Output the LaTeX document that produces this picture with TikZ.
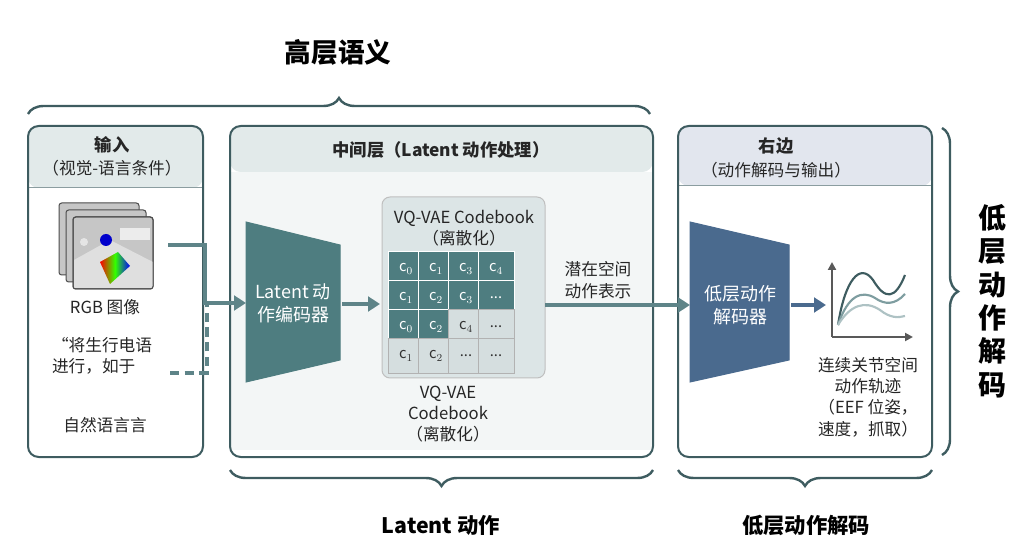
\documentclass[tikz,border=0pt]{standalone}
\usepackage{fontspec}
\setmainfont{Noto Sans CJK SC}
\usetikzlibrary{decorations.pathreplacing,arrows.meta}
\definecolor{frame}{HTML}{3E5C60}
\definecolor{teal}{HTML}{4E7D80}
\definecolor{navy}{HTML}{4A6A8E}
\definecolor{band}{HTML}{E2EAEA}
\definecolor{bandr}{HTML}{E2E6EE}
\definecolor{inner}{HTML}{F3F6F6}
\definecolor{cbk}{HTML}{DCE5E6}
\definecolor{cell}{HTML}{D5DEDF}
\definecolor{flow}{HTML}{5E8488}
\tikzset{every picture/.style={line width=0.75pt}}
\tikzset{
  panel/.style={draw=frame, line width=1.5pt, rounded corners=8pt},
  brc/.style={draw=frame, line width=1.8pt, decorate, decoration={brace, amplitude=12pt}},
  flw/.style={draw=flow, line width=2.5pt, -{Triangle[length=9pt,width=11pt]}},
  dcell/.style={draw=white, fill=teal, text=white, minimum width=27pt, minimum height=26pt, inner sep=0pt, font=\fontsize{11}{13}\selectfont},
  lcell/.style={draw=gray!60, fill=cell, text=black!80, minimum width=27pt, minimum height=26pt, inner sep=0pt, font=\fontsize{11}{13}\selectfont},
  txt/.style={font=\fontsize{12.5}{16}\selectfont, align=center, text=black!85},
  hd/.style={font=\fontsize{13}{16}\selectfont\bfseries, text=black!85}
}

\begin{document}
\begin{tikzpicture}[x=0.75pt,y=0.75pt,yscale=-1,xscale=1]
	\useasboundingbox (0,0) rectangle (1024,559);

	% top brace
	\draw [brc] (28,114) -- (650,114);
	\node (hi) at (338,52) {\fontsize{20}{24}\selectfont\bfseries 高层语义};

	%Left panel
	\fill [band, rounded corners=8pt] (28,126) rectangle (203,188);
	\fill [white] (28,188) rectangle (203,450);
	\draw [frame!60] (28,188) -- (203,188);
	\draw [panel] (28,126) rectangle (203,457);
	\node [hd] (inT) at (112,145) {输入};
	\node [txt] (inS) at (112,168) {（视觉-语言条件）};
	% image stack
	\foreach \d in {0,7,14} {
		\draw [black!70, fill=gray!45, rounded corners=2pt] (59+\d,203+\d) rectangle (139+\d,275+\d);
	}
	\fill [gray!25] (74,260) -- (110,240) -- (153,262) -- (153,288) -- (74,288) -- cycle;
	\fill [white!85!gray] (120,228) rectangle (150,240);
	\fill [blue!80!black] (106,240) circle (6);
	\shade [left color=red, right color=blue, middle color=green!80!yellow] (100,262) -- (118,252) -- (130,266) -- (110,284) -- cycle;
	\fill [white!80!gray] (84,242) circle (4);
	\draw [black!70, rounded corners=2pt] (73,217) rectangle (153,289);
	\coordinate (img) at (168,245);
	\node [txt] (rgb) at (105,307) {RGB 图像};
	\node [txt, align=left] (lang) at (102,356) {“将生行电语\\进行，如于};
	\coordinate (langR) at (170,373);
	\node [txt] (nat) at (105,425) {自然语言言};

	%Middle panel
	\fill [band, rounded corners=8pt] (230,126) rectangle (653,172);
	\fill [inner] (230,172) rectangle (653,450);
	\draw [panel] (230,126) rectangle (653,457);
	\node [hd] (midT) at (441,150) {中间层（Latent 动作处理）};
	%Shape: Trapezoid
	\draw [fill=teal, draw=teal] (246,222) -- (340,245) -- (340,360) -- (246,382) -- cycle;
	\node [txt, text=white, font=\fontsize{13.5}{17}\selectfont] (enc) at (293,303) {Latent 动\\作编码器};
	\coordinate (encL) at (246,303);
	\coordinate (encR) at (342,304);
	% codebook
	\draw [gray!50, fill=cbk, rounded corners=6pt] (382,197) rectangle (545,378);
	\node [txt] (cbT) at (464,228) {VQ-VAE Codebook\\（离散化）};
	\coordinate (cbL) at (380,304);
	\coordinate (cbR) at (545,305);
	\node [dcell] (c11) at (406,269) {c$_0$};
	\node [dcell] (c12) at (436,269) {c$_1$};
	\node [dcell] (c13) at (466,269) {c$_3$};
	\node [dcell] (c14) at (496,269) {c$_4$};
	\node [dcell] (c21) at (406,298) {c$_1$};
	\node [dcell] (c22) at (436,298) {c$_2$};
	\node [dcell] (c23) at (466,298) {c$_3$};
	\node [dcell] (c24) at (496,298) {...};
	\node [dcell] (c31) at (406,327) {c$_0$};
	\node [dcell] (c32) at (436,327) {c$_2$};
	\node [lcell] (c33) at (466,327) {c$_4$};
	\node [lcell] (c34) at (496,327) {...};
	\node [lcell] (c41) at (406,356) {c$_1$};
	\node [lcell] (c42) at (436,356) {c$_2$};
	\node [lcell] (c43) at (466,356) {...};
	\node [lcell] (c44) at (496,356) {...};
	\node [txt] (cbB) at (448,414) {VQ-VAE\\Codebook\\（离散化）};
	\node [txt] (lat) at (598,280) {潜在空间\\动作表示};

	%Right panel
	\fill [bandr, rounded corners=8pt] (678,126) rectangle (932,186);
	\fill [white] (678,186) rectangle (932,450);
	\draw [frame!60] (678,186) -- (932,186);
	\draw [panel] (678,126) rectangle (932,457);
	\node [hd] (rT) at (776,146) {右边};
	\node [txt] (rS) at (776,170) {（动作解码与输出）};
	\draw [fill=navy, draw=navy] (690,222) -- (789,245) -- (789,360) -- (690,382) -- cycle;
	\node [txt, text=white, font=\fontsize{13.5}{17}\selectfont] (dec) at (740,305) {低层动作\\解码器};
	\coordinate (decL) at (690,305);
	\coordinate (decR) at (791,305);
	% plot
	\coordinate (org) at (832,337);
	\draw [gray!70!black, line width=1.5pt, -{Triangle[length=6pt,width=6pt]}] (org) -- (832,262);
	\draw [gray!70!black, line width=1.5pt, -{Triangle[length=6pt,width=6pt]}] (org) -- (913,337);
	\coordinate (plot) at (826,305);
	\draw [frame, line width=1.6pt] (838,325) .. controls (845,280) and (860,262) .. (873,280) .. controls (885,300) and (895,300) .. (905,275);
	\draw [flow!80, line width=1.6pt] (838,325) .. controls (848,295) and (862,290) .. (875,298) .. controls (885,305) and (895,305) .. (905,294);
	\draw [flow!50, line width=1.6pt] (838,325) .. controls (850,305) and (865,300) .. (880,310) .. controls (890,318) and (898,318) .. (905,316);
	\node [txt] (traj) at (868,397) {连续关节空间\\动作轨迹\\（EEF 位姿，\\速度，抓取）};

	%Right brace
	\draw [brc] (942,128) -- (942,455);
	\node [font=\fontsize{21}{25}\selectfont\bfseries, align=center] (lo) at (992,301) {低\\层\\动\\作\\解\\码};

	%Bottom braces
	\draw [brc] (653,470) -- (230,470);
	\node [font=\fontsize{16}{19}\selectfont\bfseries] (latB) at (441,525) {Latent 动作};
	\draw [brc] (932,470) -- (678,470);
	\node [font=\fontsize{16}{19}\selectfont\bfseries] (loB) at (806,525) {低层动作解码};

	% flows
	\draw [flw] (img) -- (205,245) -- (205,303) -- (encL);
	\draw [draw=flow, line width=2.5pt, dash pattern=on 7pt off 4pt] (langR) -- (207,373) -- (207,305);
	\draw [flw] (encR) -- (cbL);
	\draw [flw] (cbR) -- (decL);
	\draw [draw=navy, line width=2.5pt, -{Triangle[length=9pt,width=11pt]}] (decR) -- (plot);

\end{tikzpicture}
\end{document}
